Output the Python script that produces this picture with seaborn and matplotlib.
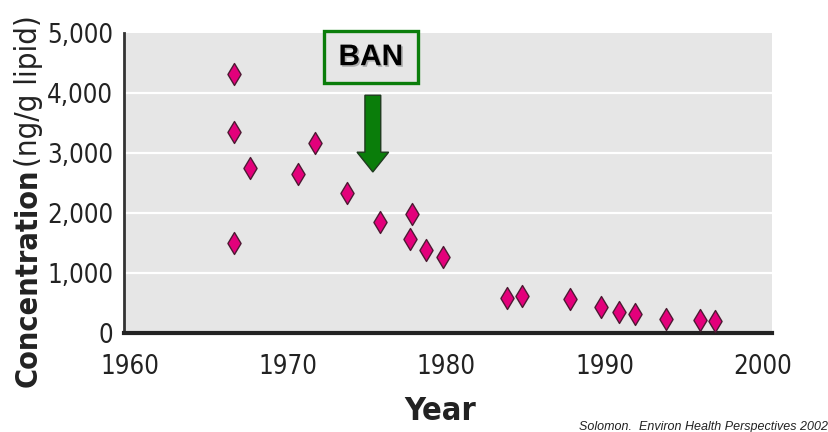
import matplotlib
matplotlib.use("Agg")
import matplotlib.pyplot as plt
import matplotlib.patheffects as pe
from matplotlib import font_manager as fm
from matplotlib.patches import Rectangle, FancyArrow
import seaborn as sns
import pandas as pd

# ---- data ----
years = [1966.6, 1966.6, 1966.6, 1967.6, 1970.6, 1971.7, 1973.7, 1975.8, 1977.8, 1977.7,
         1978.7, 1979.8, 1983.8, 1984.8, 1987.8, 1989.8, 1990.9, 1991.9, 1993.9, 1996.0, 1997.0]
conc = [4320, 3360, 1510, 2750, 2650, 3170, 2340, 1860, 1990, 1570,
        1390, 1270, 590, 620, 580, 440, 360, 320, 240, 220, 210]
x_ticks = [1960, 1970, 1980, 1990, 2000]
y_ticks = [0, 1000, 2000, 3000, 4000, 5000]
y_tick_labels = ["0", "1,000", "2,000", "3,000", "4,000", "5,000"]

# BAN annotation (data units)
ban_x = 1975.35
ban_box = (1972.25, 4170, 5.95, 870)   # x, y, width, height
arrow_top, arrow_tip = 3970, 2690

df = pd.DataFrame({"year": years, "conc": conc})

sns.set_style("white", rc={"axes.facecolor": "#e6e6e6"})

# look for a condensed face (the original uses a narrow grotesque)
narrow_name, narrow_stretch = "Liberation Sans", "normal"
for f in fm.fontManager.ttflist:
    if "Narrow" in f.name or "Condensed" in f.name or f.stretch in ("condensed", "semi-condensed"):
        narrow_name, narrow_stretch = f.name, f.stretch
        break
plt.rcParams["font.family"] = [narrow_name, "DejaVu Sans"]
plt.rcParams["font.stretch"] = narrow_stretch

fig = plt.figure(figsize=(8.29, 4.32), dpi=100)
ax = fig.add_axes([0.149, 0.2285, 0.782, 0.694])

sns.scatterplot(data=df, x="year", y="conc", marker="d", s=125, color="#e3007b",
                edgecolor="#4d1a33", linewidth=1, ax=ax, zorder=3)

ax.set_xlim(1959.59, 2000.57)
ax.set_ylim(0, 5000)
ax.set_xticks(x_ticks)
ax.set_yticks(y_ticks)
ax.set_yticklabels(y_tick_labels)
ax.tick_params(axis="both", length=0, labelsize=18.5, colors="#222222")
ax.tick_params(axis="y", pad=7.5)
ax.tick_params(axis="x", pad=15)
ax.set_xlabel("")
ax.set_ylabel("")

ax.set_axisbelow(True)
ax.grid(axis="y", color="white", lw=1.6)
gl = ax.get_ygridlines()
gl[0].set_visible(False)
gl[-1].set_visible(False)

for s in ["top", "right"]:
    ax.spines[s].set_visible(False)
ax.spines["left"].set_color("#333333")
ax.spines["left"].set_linewidth(2)
ax.spines["bottom"].set_color("#222222")
ax.spines["bottom"].set_linewidth(3)

# BAN box and arrow
ax.add_patch(Rectangle(ban_box[:2], ban_box[2], ban_box[3], facecolor="#e6e6e6",
                       edgecolor="#0a7d0a", lw=2.4, clip_on=False, zorder=4))
ax.text(ban_box[0] + ban_box[2] / 2, ban_box[1] + ban_box[3] / 2, "BAN",
        ha="center", va="center", fontsize=21.5, fontweight="bold",
        family=["Liberation Sans", "DejaVu Sans"], stretch="normal", color="black", zorder=5,
        path_effects=[pe.SimplePatchShadow(offset=(1.2, -1.2), shadow_rgbFace="#888888", alpha=0.6),
                      pe.Normal()])
ax.add_patch(FancyArrow(ban_x, arrow_top, 0, arrow_tip - arrow_top, width=1.0,
                        head_width=2.0, head_length=330, length_includes_head=True,
                        facecolor="#0a7d0a", edgecolor="#1f3a1f", lw=1, zorder=4))

# axis titles
t1 = fig.text(37 / 829, 1 - 387 / 432, "Concentration", rotation=90, rotation_mode="anchor",
              ha="left", va="baseline", fontsize=28, fontweight="bold", color="#222222")
t2 = fig.text(37 / 829, 1 - 167 / 432, "(ng/g lipid)", rotation=90, rotation_mode="anchor",
              ha="left", va="baseline", fontsize=28, color="#222222")
t3 = fig.text(440 / 829, 1 - 411 / 432, "Year", ha="center", va="center",
              fontsize=28, fontweight="bold", color="#222222")
fig.text(828 / 829, 1 - 427 / 432, "Solomon.  Environ Health Perspectives 2002",
         ha="right", va="center", fontsize=9, style="italic",
         family=["Liberation Sans", "DejaVu Sans"], stretch="normal", color="#222222")

# shrink the titles to the lengths they have in the original
fig.canvas.draw()
r = fig.canvas.get_renderer()
for t, target in [(t1, 219), (t2, 152), (t3, 72)]:
    bb = t.get_window_extent(r)
    size = max(bb.width, bb.height)
    if size > target:
        t.set_fontsize(t.get_fontsize() * target / size)

fig.savefig("out.png", dpi=100)
